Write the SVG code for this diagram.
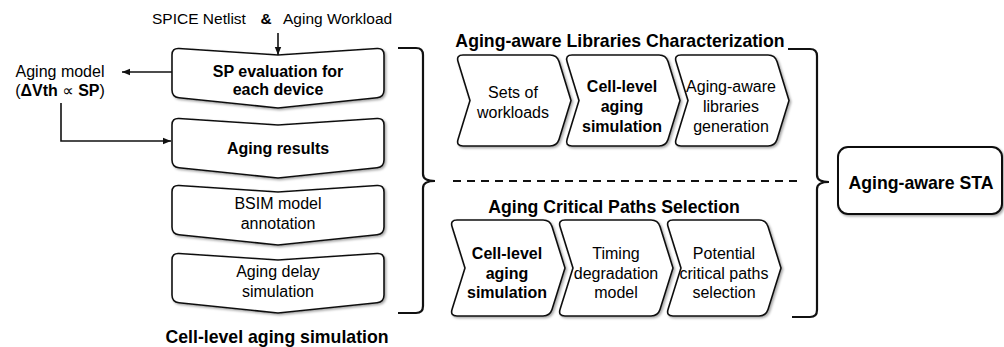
<svg xmlns="http://www.w3.org/2000/svg" width="1004" height="347" viewBox="0 0 1004 347">
<defs>
<style>
text{font-family:"Liberation Sans",Arial,"DejaVu Sans",sans-serif;fill:#000;}
.t{font-size:16px;text-anchor:middle;}
.b{font-size:16px;text-anchor:middle;font-weight:bold;}
.title{font-size:17.7px;font-weight:bold;text-anchor:middle;}
.box{fill:#fff;stroke:#111;stroke-width:1.6;filter:url(#sh);}
.ln{fill:none;stroke:#111;stroke-width:1.6;}
.br{fill:none;stroke:#111;stroke-width:2.2;}
</style>
<filter id="sh" x="-10%" y="-10%" width="130%" height="130%">
<feDropShadow dx="1.5" dy="1.5" stdDeviation="1" flood-color="#000" flood-opacity="0.35"/>
</filter>
<marker id="ah" viewBox="0 0 10 10" refX="10" refY="5" markerWidth="9" markerHeight="8" orient="auto" markerUnits="userSpaceOnUse">
<path d="M0,1 L10,5 L0,9 Z" fill="#111"/>
</marker>
</defs>
<rect width="1004" height="347" fill="#fff"/>

<g id="input-label">
<text x="152" y="24" style="font-size:15.5px">SPICE Netlist</text>
<text x="266" y="24" style="font-size:15.5px;font-weight:bold;text-anchor:middle">&amp;</text>
<text x="283" y="24" style="font-size:15.5px">Aging Workload</text>
</g>

<g id="aging-model">
<text class="t" x="60" y="77">Aging model</text>
<text class="t" x="60" y="96">(<tspan font-weight="bold">ΔVth</tspan> ∝ <tspan font-weight="bold">SP</tspan>)</text>
</g>

<g id="sp-eval">
<path class="box" d="M172,55 Q172,48 179,48.5 L278,55 L377,48.5 Q384,48 384,55 L384,90 Q384,97 377,97.7 L278,108 L179,97.7 Q172,97 172,90 Z"/>
<text class="b" x="278" y="77">SP evaluation for</text>
<text class="b" x="278" y="95">each device</text>
</g>
<g id="aging-results">
<path class="box" d="M172,125 Q172,118 179,118.5 L278,125 L377,118.5 Q384,118 384,125 L384,160 Q384,167 377,167.7 L278,178 L179,167.7 Q172,167 172,160 Z"/>
<text class="b" x="278" y="154">Aging results</text>
</g>
<g id="bsim">
<path class="box" d="M172,192 Q172,185 179,185.5 L278,192 L377,185.5 Q384,185 384,192 L384,227 Q384,234 377,234.7 L278,245 L179,234.7 Q172,234 172,227 Z"/>
<text class="t" x="278" y="209">BSIM model</text>
<text class="t" x="278" y="229">annotation</text>
</g>
<g id="aging-delay">
<path class="box" d="M172,260 Q172,253 179,253.5 L278,260 L377,253.5 Q384,253 384,260 L384,295 Q384,302 377,302.7 L278,313 L179,302.7 Q172,302 172,295 Z"/>
<text class="t" x="278" y="277">Aging delay</text>
<text class="t" x="278" y="297">simulation</text>
</g>
<g id="cell-level-label">
<text class="title" x="277" y="343">Cell-level aging simulation</text>
</g>

<g id="lib-title">
<text class="title" x="620" y="47">Aging-aware Libraries Characterization</text>
</g>
<g id="sets-workloads">
<path class="box" d="M463,55 H550 Q557,55 559.1,61.7 L571,100.5 L559.1,139.3 Q557,146 550,146 H463 Q456,146 458.1,139.3 L470,100.5 L458.1,61.7 Q456,55 463,55 Z"/>
<text class="t" x="513" y="98">Sets of</text>
<text class="t" x="513" y="118">workloads</text>
</g>
<g id="cell-sim-top">
<path class="box" d="M572,55 H659 Q666,55 668.1,61.7 L680,100.5 L668.1,139.3 Q666,146 659,146 H572 Q565,146 567.1,139.3 L579,100.5 L567.1,61.7 Q565,55 572,55 Z"/>
<text class="b" x="622" y="92">Cell-level</text>
<text class="b" x="622" y="112">aging</text>
<text class="b" x="622" y="132">simulation</text>
</g>
<g id="lib-gen">
<path class="box" d="M681,55 H768 Q775,55 777.1,61.7 L789,100.5 L777.1,139.3 Q775,146 768,146 H681 Q674,146 676.1,139.3 L688,100.5 L676.1,61.7 Q674,55 681,55 Z"/>
<text class="t" x="731" y="92">Aging-aware</text>
<text class="t" x="731" y="112">libraries</text>
<text class="t" x="731" y="132">generation</text>
</g>

<g id="paths-title">
<text class="title" x="614" y="213">Aging Critical Paths Selection</text>
</g>
<g id="cell-sim-bottom">
<path class="box" d="M457,220 H543 Q550,220 552.1,226.7 L565,268 L552.1,309.3 Q550,316 543,316 H457 Q450,316 452.1,309.3 L465,268 L452.1,226.7 Q450,220 457,220 Z"/>
<text class="b" x="507" y="259">Cell-level</text>
<text class="b" x="507" y="279">aging</text>
<text class="b" x="507" y="298">simulation</text>
</g>
<g id="timing-model">
<path class="box" d="M565,220 H651 Q658,220 660.1,226.7 L673,268 L660.1,309.3 Q658,316 651,316 H565 Q558,316 560.1,309.3 L573,268 L560.1,226.7 Q558,220 565,220 Z"/>
<text class="t" x="616" y="259">Timing</text>
<text class="t" x="616" y="279">degradation</text>
<text class="t" x="616" y="298">model</text>
</g>
<g id="critical-paths">
<path class="box" d="M673,220 H759 Q766,220 768.1,226.7 L781,268 L768.1,309.3 Q766,316 759,316 H673 Q666,316 668.1,309.3 L681,268 L668.1,226.7 Q666,220 673,220 Z"/>
<text class="t" x="724" y="259">Potential</text>
<text class="t" x="724" y="279">critical paths</text>
<text class="t" x="724" y="298">selection</text>
</g>

<g id="aging-sta">
<rect class="box" x="838" y="147" width="164" height="67" rx="10" ry="10" style="stroke-width:2"/>
<text class="title" x="921" y="189">Aging-aware STA</text>
</g>

<g id="connectors">
<path class="ln" d="M278,33 V55" marker-end="url(#ah)"/>
<path class="ln" d="M172,72 H122" marker-end="url(#ah)"/>
<path class="ln" d="M61,103 V141 H171" marker-end="url(#ah)"/>
<path class="br" d="M398,48 H416 Q423,48 423,55 V174 Q423,181 435,181 Q423,181 423,188 V306 Q423,313 416,313 H398"/>
<path class="br" d="M788,49 H810 Q817,49 817,56 V175 Q817,182 829,182 Q817,182 817,189 V310 Q817,317 810,317 H792"/>
<path d="M453,181 H803" fill="none" stroke="#111" stroke-width="2" stroke-dasharray="8 6"/>
</g>
</svg>
